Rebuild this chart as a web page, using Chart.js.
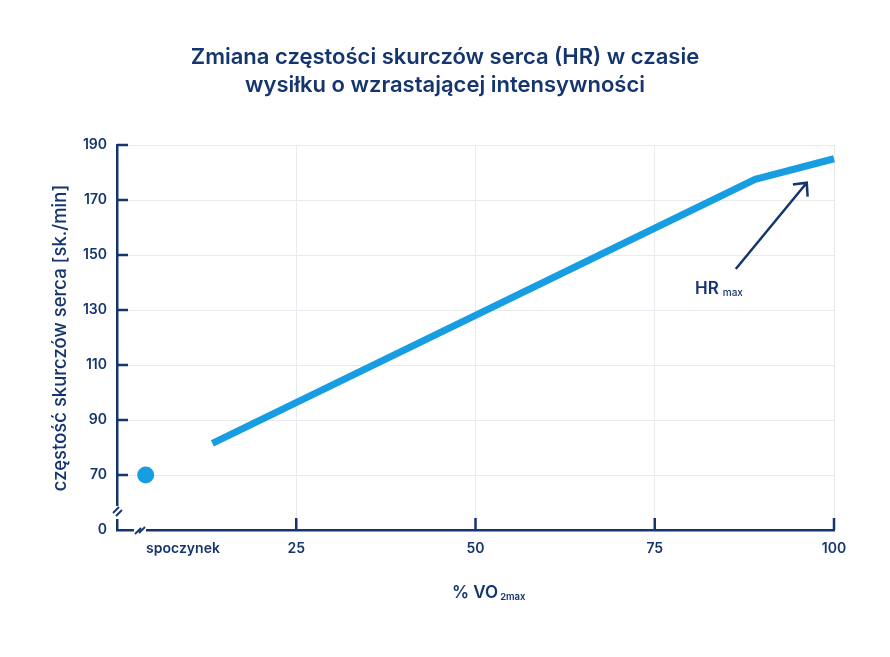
<!DOCTYPE html>
<html lang="pl">
<head>
<meta charset="utf-8">
<title>Zmiana częstości skurczów serca (HR)</title>
<script src="https://cdn.jsdelivr.net/npm/chart.js@4.4.1/dist/chart.umd.min.js"></script>
<style>
  html, body { margin: 0; padding: 0; background: #ffffff; }
  #wrap { width: 890px; height: 657px; }
</style>
</head>
<body>
<div id="wrap"><canvas id="hr-chart" width="890" height="657"></canvas></div>
<script>
// values
const titleLines = ["Zmiana częstości skurczów serca (HR) w czasie", "wysiłku o wzrastającej intensywności"];
const yAxisTitle = "częstość skurczów serca [sk./min]";
const xTickValues = [9.2, 25, 50, 75, 100];
const xTickLabels = ["spoczynek", "25", "50", "75", "100"];
const yTickValues = [50, 70, 90, 110, 130, 150, 170, 190];
const yTickLabels = ["0", "70", "90", "110", "130", "150", "170", "190"];
const effortX = [13.3, 89, 100];
const effortY = [81.5, 177.5, 185];
const restX = [4];
const restY = [70];
const arrowX = [86.3, 96.2];
const arrowY = [144.9, 176.3];

const NAVY = "#15356f";
const BLUE = "#169de2";
const GRID = "#e7eaef";
const FONT = "Inter, 'Noto Sans', sans-serif";

const extras = {
  id: "extras",
  afterDraw(chart) {
    const { ctx, chartArea: a, scales: { x, y } } = chart;
    ctx.save();

    // title
    ctx.fillStyle = NAVY;
    ctx.textAlign = "center";
    ctx.textBaseline = "middle";
    ctx.font = "600 22px " + FONT;
    titleLines.forEach((t, i) => ctx.fillText(t, 445, 57 + i * 28));

    // y axis title
    ctx.save();
    ctx.translate(60, 338);
    ctx.rotate(-Math.PI / 2);
    ctx.font = "500 18.5px " + FONT;
    ctx.fillText(yAxisTitle, 0, 0);
    ctx.restore();

    // x axis title with subscript
    ctx.textAlign = "left";
    ctx.textBaseline = "alphabetic";
    ctx.font = "600 17px " + FONT;
    const main = "% VO";
    ctx.fillText(main, 452, 598);
    const w = ctx.measureText(main).width;
    ctx.font = "600 9.5px " + FONT;
    ctx.fillText("2max", 452 + w + 2, 600);

    // inner tick marks
    ctx.strokeStyle = NAVY;
    ctx.lineWidth = 2.5;
    ctx.beginPath();
    yTickValues.slice(1).forEach(v => {
      const py = y.getPixelForValue(v);
      ctx.moveTo(a.left, py);
      ctx.lineTo(a.left + 11, py);
    });
    xTickValues.slice(1).forEach(v => {
      const px = x.getPixelForValue(v);
      ctx.moveTo(px, a.bottom);
      ctx.lineTo(px, a.bottom - 12);
    });
    ctx.stroke();

    // axis breaks
    ctx.fillStyle = "#ffffff";
    ctx.fillRect(a.left - 3, 506, 6, 13);
    ctx.fillRect(134, a.bottom - 3, 12, 6);
    ctx.lineWidth = 1.8;
    ctx.beginPath();
    [[a.left - 1, 510], [a.left + 2, 513]].forEach(([bx, by]) => {
      ctx.moveTo(bx - 3, by + 3);
      ctx.lineTo(bx + 3, by - 3);
    });
    [[138, a.bottom + 1], [142, a.bottom]].forEach(([bx, by]) => {
      ctx.moveTo(bx - 3, by + 3);
      ctx.lineTo(bx + 3, by - 3);
    });
    ctx.stroke();

    // HR max arrow
    const x0 = x.getPixelForValue(arrowX[0]), y0 = y.getPixelForValue(arrowY[0]);
    const x1 = x.getPixelForValue(arrowX[1]), y1 = y.getPixelForValue(arrowY[1]);
    const ang = Math.atan2(y0 - y1, x0 - x1);
    ctx.lineWidth = 2.5;
    ctx.beginPath();
    ctx.moveTo(x0, y0);
    ctx.lineTo(x1, y1);
    ctx.moveTo(x1 + 14 * Math.cos(ang - 0.75), y1 + 14 * Math.sin(ang - 0.75));
    ctx.lineTo(x1, y1);
    ctx.lineTo(x1 + 14 * Math.cos(ang + 0.75), y1 + 14 * Math.sin(ang + 0.75));
    ctx.stroke();

    ctx.fillStyle = NAVY;
    ctx.font = "600 17px " + FONT;
    ctx.fillText("HR", 695, 294);
    const hw = ctx.measureText("HR").width;
    ctx.font = "500 10px " + FONT;
    ctx.fillText("max", 695 + hw + 4, 296);

    ctx.restore();
  }
};

new Chart(document.getElementById("hr-chart"), {
  type: "line",
  data: {
    datasets: [
      {
        data: effortX.map((v, i) => ({ x: v, y: effortY[i] })),
        borderColor: BLUE,
        borderWidth: 7,
        borderCapStyle: "butt",
        pointRadius: 0,
        tension: 0,
        clip: false
      },
      {
        data: restX.map((v, i) => ({ x: v, y: restY[i] })),
        showLine: false,
        pointRadius: 8.5,
        pointBackgroundColor: BLUE,
        pointBorderWidth: 0
      }
    ]
  },
  options: {
    responsive: false,
    animation: false,
    layout: { padding: { top: 145, right: 56, bottom: 0, left: 0 } },
    plugins: { legend: { display: false }, title: { display: false }, tooltip: { enabled: false } },
    scales: {
      x: {
        type: "linear",
        min: 0,
        max: 100,
        afterBuildTicks: s => { s.ticks = xTickValues.map(v => ({ value: v })); },
        afterFit: s => { s.height = 127; },
        grid: {
          color: c => (c.tick && c.tick.value > 10 ? GRID : "rgba(0,0,0,0)"),
          lineWidth: 1,
          drawTicks: false
        },
        border: { display: true, color: NAVY, width: 2.5 },
        ticks: {
          autoSkip: false,
          maxRotation: 0,
          padding: 10,
          color: NAVY,
          font: { family: FONT, size: 14, weight: "600" },
          callback: v => xTickLabels[xTickValues.indexOf(v)]
        }
      },
      y: {
        type: "linear",
        min: 50,
        max: 190,
        afterBuildTicks: s => { s.ticks = yTickValues.map(v => ({ value: v })); },
        afterFit: s => { s.width = 117; },
        grid: {
          color: c => (c.tick && c.tick.value > 50 ? GRID : "rgba(0,0,0,0)"),
          lineWidth: 1,
          drawTicks: false
        },
        border: { display: true, color: NAVY, width: 2.5 },
        ticks: {
          padding: 10,
          color: NAVY,
          font: { family: FONT, size: 14, weight: "600" },
          callback: v => yTickLabels[yTickValues.indexOf(v)]
        }
      }
    }
  },
  plugins: [extras]
});
</script>
</body>
</html>
